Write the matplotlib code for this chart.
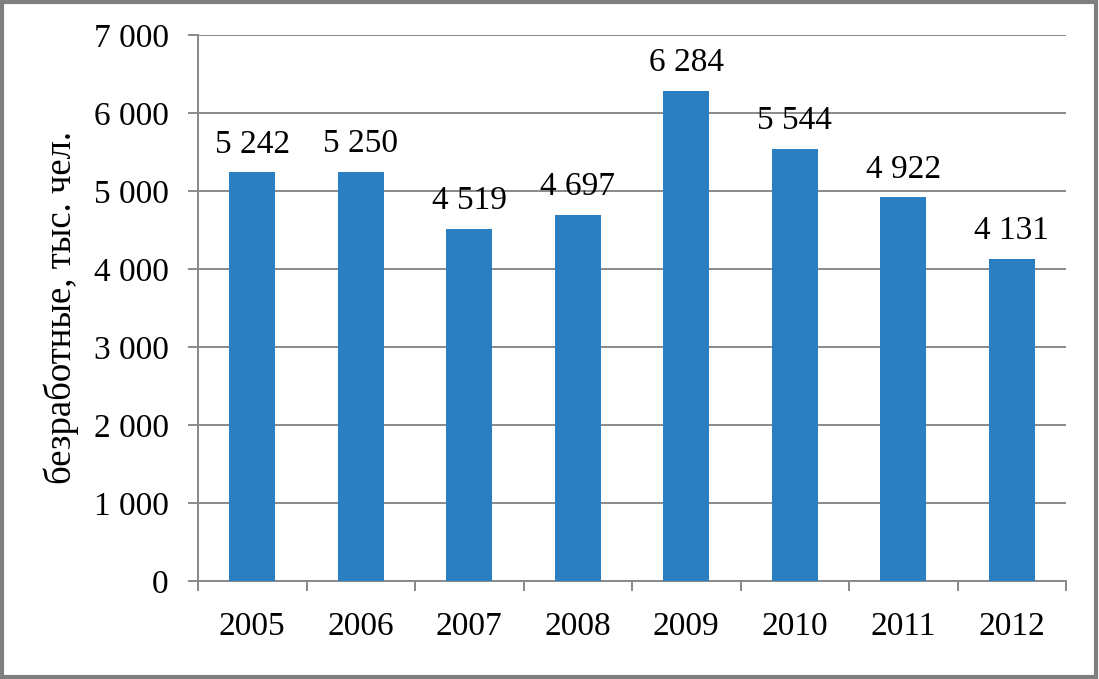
import matplotlib.pyplot as plt
import matplotlib.ticker as mticker
import numpy as np

years = ['2005', '2006', '2007', '2008', '2009', '2010', '2011', '2012']
unemployed = [5242, 5250, 4519, 4697, 6284, 5544, 4922, 4131]

plt.rcParams['font.family'] = ['Liberation Serif', 'DejaVu Serif']

fig = plt.figure(figsize=(10.99, 6.79), dpi=100)
ax = fig.add_axes([198 / 1099, 1 - 581 / 679, (1066 - 198) / 1099, (581 - 35) / 679])

x = np.arange(len(years))
bars = ax.bar(x, unemployed, width=0.42, color='#2a7fc1', zorder=3)

def sp(v, pos=None):
    return f"{v:,.0f}".replace(",", " ")

for b, v in zip(bars, unemployed):
    ax.annotate(sp(v), (b.get_x() + b.get_width() / 2, v), xytext=(0, 9),
                textcoords='offset points', ha='center', va='bottom', fontsize=24)

ax.set_xlim(-0.5, len(years) - 0.5)
ax.set_ylim(0, 7000)
ax.yaxis.set_major_locator(mticker.MultipleLocator(1000))
ax.yaxis.set_major_formatter(mticker.FuncFormatter(sp))
ax.set_xticks(x)
ax.set_xticklabels(years)
ax.set_xticks(np.arange(-0.5, len(years)), minor=True)

grey = '#898989'
ax.grid(axis='y', color=grey, lw=1.4, zorder=0)
for s in ['top', 'right']:
    ax.spines[s].set_visible(False)
for s in ['left', 'bottom']:
    ax.spines[s].set_color(grey)
    ax.spines[s].set_linewidth(1.4)

ax.tick_params(axis='y', direction='out', length=7, width=1.4, color=grey, pad=14, labelsize=24)
ax.tick_params(axis='x', which='major', length=0, pad=22, labelsize=24)
ax.tick_params(axis='x', which='minor', direction='out', length=7, width=1.4, color=grey)

ax.set_ylabel('безработные, тыс. чел.', fontsize=26.5, labelpad=11)

# border around the whole picture
fig.patches.append(plt.Rectangle((0.002, 0.003), 0.995, 0.994, transform=fig.transFigure,
                                 fill=False, edgecolor='#7f7f7f', lw=3))

plt.savefig('out.png', dpi=100)
